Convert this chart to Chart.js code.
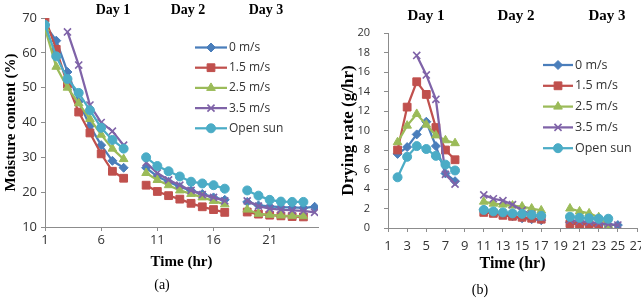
<!DOCTYPE html>
<html lang="en">
<head>
<meta charset="UTF-8">
<title>Moisture content and drying rate</title>
<script src="https://cdn.jsdelivr.net/npm/chart.js@4.4.1/dist/chart.umd.min.js"></script>
<style>
  body { margin: 0; width: 641px; height: 298px; overflow: hidden; background: #fff; position: relative; }
  .box { position: absolute; top: 0; height: 298px; }
  #boxA { left: 0; width: 330px; }
  #boxB { left: 330px; width: 330px; }
  .txt { position: absolute; font-family: 'Liberation Serif', serif; color: #000; transform: translate(-50%, -50%); white-space: nowrap; }
  .day { font-weight: bold; }
</style>
</head>
<body>
<div class="box" id="boxA"><canvas id="chartA" width="330" height="298"></canvas></div>
<div class="box" id="boxB"><canvas id="chartB" width="330" height="298"></canvas></div>

<div class="txt day" style="left:113px; top:10px; font-size:14px">Day 1</div>
<div class="txt day" style="left:188px; top:10px; font-size:14px">Day 2</div>
<div class="txt day" style="left:266px; top:10px; font-size:14px">Day 3</div>
<div class="txt day" style="left:426px; top:15px; font-size:15px">Day 1</div>
<div class="txt day" style="left:516px; top:15px; font-size:15px">Day 2</div>
<div class="txt day" style="left:607px; top:15px; font-size:15px">Day 3</div>
<div class="txt" style="left:162px; top:285px; font-size:14px">(a)</div>
<div class="txt" style="left:480px; top:290px; font-size:14px">(b)</div>

<script>
// hours 1..25, null = no reading (gap between days)
const hours = [1,2,3,4,5,6,7,8,9,10,11,12,13,14,15,16,17,18,19,20,21,22,23,24,25];
const seriesNames = ['0 m/s', '1.5 m/s', '2.5 m/s', '3.5 m/s', 'Open sun'];

// (a) moisture content (%)
const moist0   = [68, 63.5, 54.5, 46, 39, 33.5, 29, 27, null, 27, 24.5, 23, 21.5, 20.5, 19.5, 18.5, 17.8, null, 17.2, 16.2, 15.9, 15.7, 15.6, 15.5, 15.8];
const moist15  = [70, 61, 51, 43, 37, 31, 26, 24, null, 22, 20.2, 19, 18, 16.8, 15.8, 15, 14.2, null, 14.3, 13.7, 13.4, 13.2, 13.0, 12.9, null];
const moist25  = [67, 56, 50, 45.5, 41, 36.5, 32.5, 29.5, null, 25.5, 23.5, 22, 20.5, 19.5, 18.5, 17.5, 16.5, null, 15, 13.8, 13.5, 13.3, 13.2, 13.1, null];
const moist35  = [null, null, 66, 56.5, 45, 40, 37.5, 33.5, null, 28.5, 25.5, 23.5, 22, 20.5, 19.3, 18.5, 17.5, null, 17.5, 16, 15.3, 15, 14.8, 14.6, 14.2];
const moistSun = [68, 59, 52.5, 48.5, 43.5, 38.5, 35, 32.5, null, 30, 27.5, 26, 24.5, 23, 22.5, 22, 21, null, 20.5, 19, 17.8, 17.3, 17.2, 17.2, null];

// (b) drying rate (g/hr)
const rate0   = [null, 7.6, 8.3, 9.6, 10.9, 8.4, 5.6, 4.8, null, null, 1.9, 1.6, 1.4, 1.2, 1.0, 0.9, 0.8, null, null, 0.6, 0.5, 0.5, 0.4, 0.35, 0.3];
const rate15  = [null, 8, 12.4, 15, 13.7, 10.3, 8, 7, null, null, 1.6, 1.5, 1.3, 1.2, 1.1, 1.0, 0.9, null, null, 0.45, 0.4, 0.35, 0.15, null, null];
const rate25  = [null, 8.8, 10.5, 11.7, 10.6, 9.5, 9, 8.7, null, null, 2.7, 2.5, 2.4, 2.3, 2.2, 2.0, 1.8, null, null, 2.0, 1.7, 1.5, 1.1, 0.3, null];
const rate35  = [null, null, null, 17.7, 15.7, 13.2, 5.5, 4.5, null, null, 3.4, 3.0, 2.8, 2.4, 1.8, 1.4, 1.1, null, null, 0.8, 0.7, 0.6, 0.5, 0.4, 0.3];
const rateSun = [null, 5.2, 7.3, 8.4, 8.1, 7.4, 6.5, 5.9, null, null, 1.85, 1.7, 1.6, 1.5, 1.45, 1.35, 1.25, null, null, 1.15, 1.05, 1.0, 0.95, 0.95, null];

const ticksA = [1, 6, 11, 16, 21];
const ticksB = [1, 3, 5, 7, 9, 11, 13, 15, 17, 19, 21, 23, 25, 27];

const colors = ['#4a7ebb', '#c0504d', '#9bbb59', '#7f63a8', '#4bacc6'];
const markers = ['rectRot', 'rect', 'triangle', 'crossRot', 'circle'];
const radii = [4.5, 5.5, 5, 5, 4.5];
const drawOrder = [4, 3, 2, 1, 0]; // later series on top, like the original

const sans = "'Open Sans', sans-serif";
const serif = "'Liberation Serif', serif";

function makeDatasets(values) {
    return values.map((v, i) => ({
        label: seriesNames[i],
        data: v,
        borderColor: colors[i],
        backgroundColor: colors[i],
        borderWidth: 2.25,
        pointStyle: markers[i],
        pointRadius: radii[i],
        pointBackgroundColor: colors[i],
        pointBorderColor: colors[i],
        pointBorderWidth: markers[i] === 'crossRot' ? 1.6 : 1,
        tension: 0,
        order: drawOrder[i]
    }));
}

// legend drawn inside the plot: line sample with marker, then the name
const lineLegend = {
    id: 'lineLegend',
    afterDraw(chart, args, opts) {
        const ctx = chart.ctx;
        chart.data.datasets.forEach((ds, i) => {
            const y = opts.y + i * opts.gap;
            ctx.save();
            ctx.strokeStyle = ds.borderColor;
            ctx.lineWidth = ds.borderWidth;
            ctx.beginPath();
            ctx.moveTo(opts.x, y);
            ctx.lineTo(opts.x + opts.len, y);
            ctx.stroke();
            ctx.fillStyle = ds.pointBackgroundColor;
            ctx.strokeStyle = ds.pointBorderColor;
            ctx.lineWidth = ds.pointBorderWidth;
            Chart.helpers.drawPoint(ctx, {
                pointStyle: ds.pointStyle, radius: ds.pointRadius, rotation: 0, borderWidth: ds.pointBorderWidth
            }, opts.x + opts.len / 2, y);
            ctx.fillStyle = '#333';
            ctx.font = opts.size + 'px ' + sans;
            ctx.textBaseline = 'middle';
            ctx.textAlign = 'left';
            ctx.fillText(ds.label, opts.x + opts.len + 2, y);
            ctx.restore();
        });
    }
};

function makeChart(id, values, cfg) {
    return new Chart(document.getElementById(id), {
        type: 'line',
        data: { labels: hours, datasets: makeDatasets(values) },
        plugins: [lineLegend],
        options: {
            responsive: false,
            animation: false,
            events: [],
            layout: { padding: cfg.padding },
            plugins: {
                legend: { display: false },
                tooltip: { enabled: false },
                lineLegend: cfg.legend
            },
            scales: {
                x: {
                    type: 'linear',
                    min: 1,
                    max: cfg.xMax,
                    afterBuildTicks: s => { s.ticks = cfg.xTicks.map(v => ({ value: v })); },
                    afterFit: s => { s.height = cfg.xHeight; },
                    grid: { drawOnChartArea: false, tickLength: 4, color: '#8c8c8c' },
                    border: { color: '#8c8c8c' },
                    ticks: { font: { family: sans, size: cfg.xTickSize }, color: '#333', padding: cfg.xTickPad, maxRotation: 0, autoSkip: false },
                    title: { display: true, text: 'Time (hr)', color: '#000', font: { family: serif, size: cfg.xTitleSize, weight: 'bold' }, padding: { top: 0, bottom: 4 } }
                },
                y: {
                    min: cfg.yMin,
                    max: cfg.yMax,
                    afterFit: s => { s.width = cfg.yWidth; },
                    grid: { drawOnChartArea: false, tickLength: 4, color: '#8c8c8c' },
                    border: { color: '#8c8c8c' },
                    ticks: { stepSize: cfg.yStep, font: { family: sans, size: cfg.yTickSize }, color: '#333', padding: cfg.yTickPad },
                    title: { display: true, text: cfg.yTitle, color: '#000', font: { family: serif, size: cfg.yTitleSize, weight: 'bold' }, padding: { top: cfg.yTitlePad, bottom: 0 } }
                }
            }
        }
    });
}

makeChart('chartA', [moist0, moist15, moist25, moist35, moistSun], {
    padding: { left: 0, top: 18, right: 12, bottom: 23 },
    xMax: 25.3, xTicks: ticksA, xHeight: 48, xTickSize: 13, xTickPad: 1, xTitleSize: 15,
    yMin: 10, yMax: 70, yStep: 10, yWidth: 45, yTickSize: 13, yTickPad: 4,
    yTitle: 'Moisture content (%)', yTitleSize: 15, yTitlePad: 2,
    legend: { x: 195, y: 47.5, gap: 20.2, len: 32, size: 12 }
});

makeChart('chartB', [rate0, rate15, rate25, rate35, rateSun], {
    padding: { left: 0, top: 33, right: 23, bottom: 21 },
    xMax: 27, xTicks: ticksB, xHeight: 49, xTickSize: 13, xTickPad: 6, xTitleSize: 16,
    yMin: 0, yMax: 20, yStep: 2, yWidth: 58, yTickSize: 11, yTickPad: 14,
    yTitle: 'Drying rate (g/hr)', yTitleSize: 17, yTitlePad: 8,
    legend: { x: 213, y: 65, gap: 20.8, len: 30, size: 12.5 }
});
</script>
</body>
</html>
